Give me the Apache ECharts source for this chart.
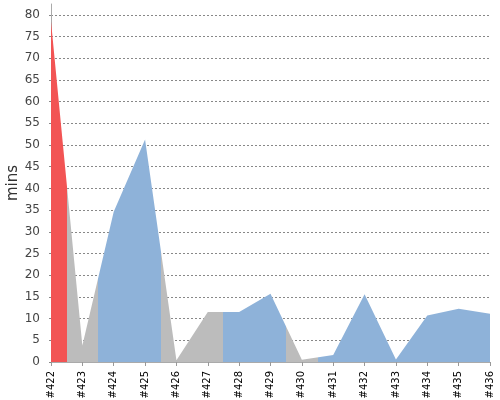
<!DOCTYPE html>
<html><head><meta charset="utf-8">
<script src="https://cdn.jsdelivr.net/npm/echarts@6/dist/echarts.min.js"></script>
<style>html,body{margin:0;padding:0;background:#fff}#c{width:500px;height:400px}</style>
</head><body><div id="c"></div>
<script>
const builds = ['#422','#423','#424','#425','#426','#427','#428','#429','#430','#431','#432','#433','#434','#435','#436'];
const durations = [78.5, 3.8, 34.6, 51.3, 0.4, 11.5, 11.5, 15.7, 0.5, 1.6, 15.6, 0.6, 10.7, 12.3, 11.1];
const statuses = ['failed','aborted','success','success','aborted','aborted','success','success','aborted','success','success','success','success','success','success'];
const statusColors = {failed: '#F25454', aborted: '#BCBCBC', success: '#8EB2D9'};
const yAxisName = 'mins';

const pieces = statuses.map((s, i) => ({gt: i - 0.5, lte: i + 0.5, color: statusColors[s]}));
pieces[0] = {gte: -1, lte: 0.5, color: statusColors[statuses[0]]};
const seriesData = durations.map((v, i) => [i, v]);

const chart = echarts.init(document.getElementById('c'), null, {renderer: 'canvas'});
chart.setOption({
  animation: false,
  backgroundColor: '#fff',
  grid: {left: 51, right: 10, top: 4, bottom: 38, containLabel: false, outerBoundsMode: 'none'},
  xAxis: {
    type: 'value', min: 0, max: builds.length - 1, interval: 1, offset: 3,
    axisLine: {lineStyle: {color: '#aaa', width: 1}},
    axisTick: {show: true, length: 4, lineStyle: {color: '#999'}},
    axisLabel: {rotate: 90, margin: 6, color: '#000', fontSize: 10, fontFamily: 'DejaVu Sans',
      formatter: v => builds[Math.round(v)] || ''},
    splitLine: {show: false}
  },
  yAxis: {
    type: 'value', min: 0, max: 82.5, interval: 5, offset: 4,
    name: yAxisName, nameLocation: 'middle', nameGap: 26, nameRotate: 90, nameMoveOverlap: false,
    nameTextStyle: {color: '#333', fontSize: 15, fontFamily: 'DejaVu Sans'},
    axisLine: {show: true, lineStyle: {color: '#aaa', width: 1}},
    axisTick: {show: true, length: 2, lineStyle: {color: '#888'}},
    axisLabel: {margin: 7, color: '#444', fontSize: 12, fontFamily: 'DejaVu Sans', showMaxLabel: false},
    splitLine: {show: true, showMaxLine: false, lineStyle: {color: '#888', type: [2, 2], width: 1}}
  },
  visualMap: {type: 'piecewise', show: false, dimension: 0, seriesIndex: 0, pieces: pieces},
  series: [{
    type: 'line', data: seriesData, symbol: 'none', smooth: false,
    lineStyle: {width: 0},
    areaStyle: {opacity: 1}
  }]
});
</script></body></html>
